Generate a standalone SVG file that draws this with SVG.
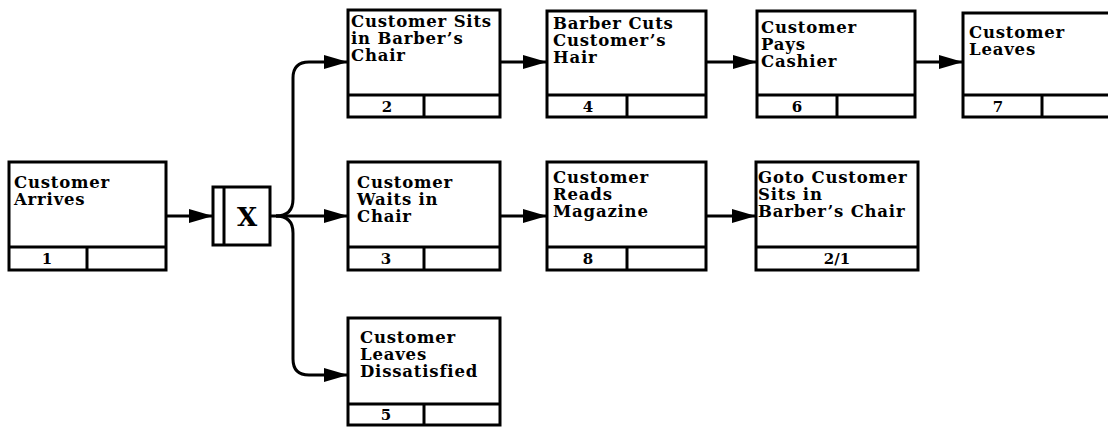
<svg xmlns="http://www.w3.org/2000/svg" width="1108" height="431" viewBox="0 0 1108 431">
<style>
.box{fill:#fff;stroke:#000;stroke-width:3}
.ln{fill:none;stroke:#000;stroke-width:3}
.t{font-family:"DejaVu Serif","Liberation Serif",serif;font-weight:bold;font-size:16.5px;letter-spacing:0.8px;fill:#000}
.n{font-family:"DejaVu Serif","Liberation Serif",serif;font-weight:bold;font-size:15px;fill:#000;text-anchor:middle}
.x{font-family:"DejaVu Serif","Liberation Serif",serif;font-weight:bold;font-size:26px;fill:#000;text-anchor:middle}
</style>
<defs>
<marker id="ah" markerUnits="userSpaceOnUse" markerWidth="26" markerHeight="18" refX="24" refY="9" orient="auto">
<path d="M0,2 L24,9 L0,16 Z" fill="#000"/>
</marker>
</defs>
<rect width="1108" height="431" fill="#fff"/>
<g id="connectors">
<path class="ln" d="M166,216 H213" marker-end="url(#ah)"/>
<path class="ln" d="M270,216 H348" marker-end="url(#ah)"/>
<path class="ln" d="M276,216 Q293,216 293,199 V78 Q293,62 309,62 H348" marker-end="url(#ah)"/>
<path class="ln" d="M276,216 Q293,216 293,233 V359 Q293,375 309,375 H348" marker-end="url(#ah)"/>
<path class="ln" d="M500,62 H547" marker-end="url(#ah)"/>
<path class="ln" d="M706,62 H757" marker-end="url(#ah)"/>
<path class="ln" d="M915,62 H963" marker-end="url(#ah)"/>
<path class="ln" d="M500,216 H547" marker-end="url(#ah)"/>
<path class="ln" d="M706,216 H756" marker-end="url(#ah)"/>
</g>
<g id="n1">
<rect class="box" x="9" y="162" width="157" height="108"/>
<line class="ln" x1="9" y1="247" x2="166" y2="247"/>
<line class="ln" x1="87" y1="247" x2="87" y2="270"/>
<text class="t" x="14" y="188">Customer</text>
<text class="t" x="14" y="205">Arrives</text>
<text class="n" x="47" y="264">1</text>
</g>
<g id="xjunction">
<rect class="box" x="213" y="187" width="57" height="58"/>
<line class="ln" x1="224" y1="187" x2="224" y2="245"/>
<text class="x" x="247" y="226">X</text>
</g>
<g id="n2">
<rect class="box" x="348" y="10" width="152" height="107"/>
<line class="ln" x1="348" y1="95" x2="500" y2="95"/>
<line class="ln" x1="424" y1="95" x2="424" y2="117"/>
<text class="t" x="351" y="27">Customer Sits</text>
<text class="t" x="351" y="44">in Barber’s</text>
<text class="t" x="351" y="61">Chair</text>
<text class="n" x="387" y="112">2</text>
</g>
<g id="n4">
<rect class="box" x="547" y="11" width="159" height="106"/>
<line class="ln" x1="547" y1="95" x2="706" y2="95"/>
<line class="ln" x1="627" y1="95" x2="627" y2="117"/>
<text class="t" x="553" y="29">Barber Cuts</text>
<text class="t" x="553" y="46">Customer’s</text>
<text class="t" x="553" y="63">Hair</text>
<text class="n" x="588" y="112">4</text>
</g>
<g id="n6">
<rect class="box" x="757" y="11" width="158" height="106"/>
<line class="ln" x1="757" y1="95" x2="915" y2="95"/>
<line class="ln" x1="837" y1="95" x2="837" y2="117"/>
<text class="t" x="761" y="33">Customer</text>
<text class="t" x="761" y="50">Pays</text>
<text class="t" x="761" y="67">Cashier</text>
<text class="n" x="797" y="112">6</text>
</g>
<g id="n7">
<rect class="box" x="963" y="13" width="160" height="104"/>
<line class="ln" x1="963" y1="95" x2="1108" y2="95"/>
<line class="ln" x1="1042" y1="95" x2="1042" y2="117"/>
<text class="t" x="969" y="38">Customer</text>
<text class="t" x="969" y="55">Leaves</text>
<text class="n" x="998" y="112">7</text>
</g>
<g id="n3">
<rect class="box" x="348" y="162" width="152" height="108"/>
<line class="ln" x1="348" y1="247" x2="500" y2="247"/>
<line class="ln" x1="424" y1="247" x2="424" y2="270"/>
<text class="t" x="357" y="188">Customer</text>
<text class="t" x="357" y="205">Waits in</text>
<text class="t" x="357" y="222">Chair</text>
<text class="n" x="386" y="264">3</text>
</g>
<g id="n8">
<rect class="box" x="547" y="162" width="159" height="108"/>
<line class="ln" x1="547" y1="247" x2="706" y2="247"/>
<line class="ln" x1="627" y1="247" x2="627" y2="270"/>
<text class="t" x="553" y="183">Customer</text>
<text class="t" x="553" y="200">Reads</text>
<text class="t" x="553" y="217">Magazine</text>
<text class="n" x="588" y="264">8</text>
</g>
<g id="goto">
<rect class="box" x="756" y="162" width="162" height="108"/>
<line class="ln" x1="756" y1="247" x2="918" y2="247"/>
<text class="t" x="758" y="183">Goto Customer</text>
<text class="t" x="758" y="200">Sits in</text>
<text class="t" x="758" y="217">Barber’s Chair</text>
<text class="n" x="837" y="264">2/1</text>
</g>
<g id="n5">
<rect class="box" x="348" y="318" width="152" height="107"/>
<line class="ln" x1="348" y1="404" x2="500" y2="404"/>
<line class="ln" x1="424" y1="404" x2="424" y2="425"/>
<text class="t" x="360" y="343">Customer</text>
<text class="t" x="360" y="360">Leaves</text>
<text class="t" x="360" y="377">Dissatisfied</text>
<text class="n" x="386" y="420">5</text>
</g>
</svg>
